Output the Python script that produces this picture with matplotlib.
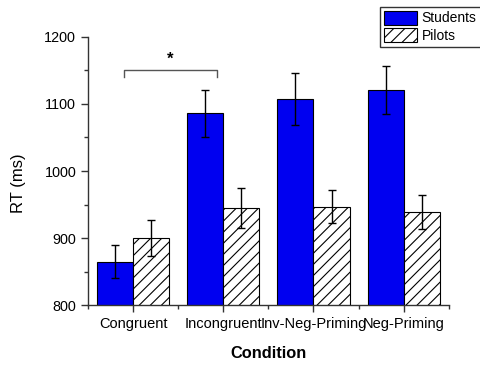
import matplotlib

matplotlib.use("Agg")

import matplotlib.pyplot as plt
import numpy as np
from matplotlib.ticker import MultipleLocator

plt.rcParams["font.family"] = ["Liberation Sans", "DejaVu Sans"]
plt.rcParams["hatch.linewidth"] = 0.8

conditions = ["Congruent", "Incongruent", "Inv-Neg-Priming", "Neg-Priming"]
students = [865, 1086, 1107, 1121]
students_err = [25, 35, 39, 36]
pilots = [900, 945, 947, 939]
pilots_err = [27, 30, 25, 25]

# significance bracket between Congruent and Incongruent
bracket_x = (0.9, 1.93)
bracket_y = 1150
bracket_drop = 10

x = np.arange(1, len(conditions) + 1)
width = 0.4

fig = plt.figure(figsize=(4.81, 3.65), dpi=100)
ax = fig.add_axes([0.183, 0.164, 0.75, 0.735])

ax.bar(x - width / 2, students, width, color="#0000f0", edgecolor="black",
       linewidth=0.8, label="Students", zorder=2)
ax.bar(x + width / 2, pilots, width, color="white", edgecolor="black",
       hatch="///", linewidth=0.8, label="Pilots", zorder=2)
ax.errorbar(x - width / 2, students, yerr=students_err, fmt="none",
            ecolor="black", elinewidth=1, capsize=3, capthick=1, zorder=3)
ax.errorbar(x + width / 2, pilots, yerr=pilots_err, fmt="none",
            ecolor="black", elinewidth=1, capsize=3, capthick=1, zorder=3)

bx0, bx1 = bracket_x
ax.plot([bx0, bx0, bx1, bx1],
        [bracket_y - bracket_drop, bracket_y, bracket_y, bracket_y - bracket_drop],
        color="#555555", linewidth=1, clip_on=False)
ax.text((bx0 + bx1) / 2, bracket_y + 5, "*", ha="center", va="bottom",
        fontsize=12, fontweight="bold")

ax.set_xlim(0.5, 4.5)
ax.set_ylim(800, 1200)
ax.set_xticks(x)
ax.set_xticklabels(conditions, fontsize=10.5)
ax.xaxis.set_minor_locator(MultipleLocator(0.5))
ax.yaxis.set_major_locator(MultipleLocator(100))
ax.yaxis.set_minor_locator(MultipleLocator(50))
ax.tick_params(axis="y", labelsize=10.4)
ax.tick_params(which="major", direction="out", length=5, width=1, color="#333333")
ax.tick_params(which="minor", direction="out", length=3, width=1, color="#333333")
ax.tick_params(axis="x", which="minor", length=3)

for side in ("top", "right"):
    ax.spines[side].set_visible(False)
for side in ("left", "bottom"):
    ax.spines[side].set_color("#333333")
    ax.spines[side].set_linewidth(1)

ax.set_ylabel("RT (ms)", fontsize=12)
ax.yaxis.set_label_coords(-0.172, 0.455)
ax.set_xlabel("Condition", fontsize=11.8, fontweight="bold", labelpad=11)

fig.legend(loc="upper right", bbox_to_anchor=(0.999, 0.982), fontsize=10,
           fancybox=False, framealpha=1, edgecolor="#333333",
           handlelength=2.4, handleheight=1.15, handletextpad=0.3,
           borderpad=0.3, labelspacing=0.2, borderaxespad=0)

fig.savefig("out.png", dpi=100)
